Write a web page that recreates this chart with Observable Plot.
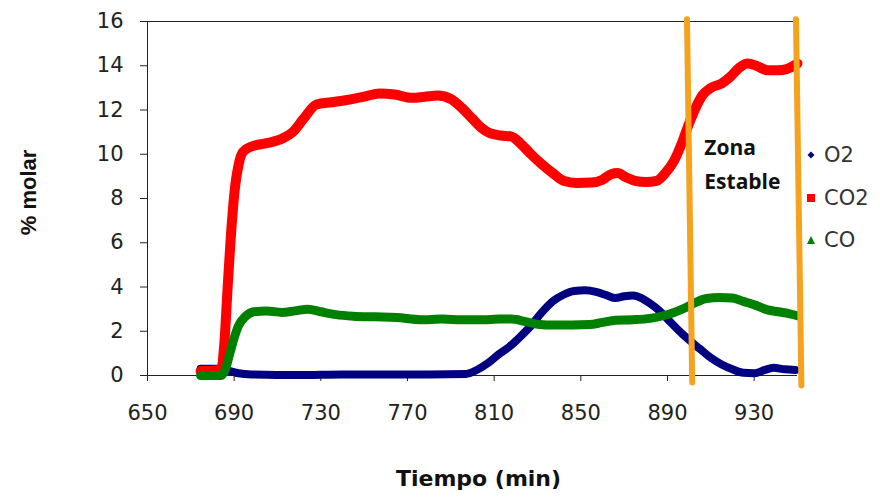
<!DOCTYPE html>
<html><head><meta charset="utf-8">
<script src="https://cdn.jsdelivr.net/npm/d3@7"></script>
<script src="https://cdn.jsdelivr.net/npm/@observablehq/plot@0.6"></script>
<style>
body{margin:0;background:#fff;}
#wrap{position:relative;width:880px;height:497px;overflow:hidden;}
.leg{position:absolute;left:805px;height:24px;line-height:24px;font-family:"DejaVu Sans";font-size:21px;color:#333;white-space:nowrap;}
.leg svg{position:absolute;left:0;top:6px;}
.leg span{position:absolute;left:19px;top:0;}
</style></head><body><div id="wrap"></div>
<script>
// ---- data ----
const xTicks = [650, 690, 730, 770, 810, 850, 890, 930];
const yTicks = [0, 2, 4, 6, 8, 10, 12, 14, 16];

const o2Time = [674.5,684,688,692,698,720,740,760,780,797,802,807,812,817,822,827,832,837,842,847,852,857,862,866,870,874,878,882,886,890,895,900,905,910,915,920,925,930,935,939,944,949];
const o2Val  = [0.3,0.3,0.2,0.1,0.05,0.02,0.05,0.05,0.05,0.07,0.25,0.55,0.95,1.3,1.75,2.25,2.85,3.35,3.65,3.82,3.85,3.78,3.62,3.5,3.58,3.62,3.5,3.25,2.95,2.55,2.05,1.6,1.2,0.8,0.5,0.28,0.12,0.1,0.25,0.35,0.28,0.25];

const co2Time = [674.5,684,685.5,687,689,690.5,692,694,698,705,712,717,722,728,735,742,750,757,764,772,778,784,790,795,800,804,808,813,818,822,827,832,837,842,848,855,860,864,867,871,875,880,885,889,893,897,900,903,906,910,915,919,923,927,931,936,941,945,950];
const co2Val  = [0.2,0.25,1.5,4.0,7.0,8.6,9.5,10.1,10.35,10.5,10.7,11.0,11.6,12.25,12.35,12.45,12.6,12.75,12.7,12.55,12.6,12.65,12.5,12.1,11.6,11.2,10.95,10.85,10.8,10.5,10.0,9.55,9.15,8.8,8.7,8.72,8.85,9.1,9.15,8.95,8.8,8.75,8.8,9.15,9.7,10.6,11.4,12.1,12.65,13.0,13.2,13.5,13.9,14.1,14.0,13.8,13.8,13.85,14.1];

const coTime = [674.5,684,686,688,690,692,695,699,705,712,718,724,730,737,745,755,765,776,786,795,805,812,818,824,830,838,846,854,860,866,874,882,888,893,898,903,908,914,920,925,930,935,941,946,950];
const coVal  = [0.0,0.0,0.3,1.0,1.7,2.25,2.65,2.88,2.92,2.85,2.92,3.0,2.88,2.75,2.68,2.65,2.62,2.52,2.55,2.52,2.52,2.55,2.55,2.45,2.32,2.28,2.28,2.3,2.4,2.5,2.52,2.58,2.7,2.85,3.05,3.3,3.48,3.52,3.5,3.35,3.2,3.0,2.88,2.8,2.7];

const seriesNames  = ["O2", "CO2", "CO"];
const seriesColors = ["#000080", "#ff0000", "#008000"];

// "Zona Estable" boundary lines (hand-drawn orange bars)
const zoneLeftX  = [899, 901.4];
const zoneLeftY  = [16.1, -0.32];
const zoneRightX = [949.3, 951.8];
const zoneRightY = [16.1, -0.45];
const zoneLabel  = ["Zona", "Estable"];
const zoneLabelX = [907, 907];
const zoneLabelY = [10.26, 8.74];

// ---- build ----
const toRows = (ts, vs) => ts.map((t, i) => ({t, v: vs[i]}));
const o2 = toRows(o2Time, o2Val);
const co2 = toRows(co2Time, co2Val);
const co = toRows(coTime, coVal);
const zoneL = toRows(zoneLeftX, zoneLeftY);
const zoneR = toRows(zoneRightX, zoneRightY);
const zoneText = zoneLabel.map((s, i) => ({s, t: zoneLabelX[i], v: zoneLabelY[i]}));

const orange = "#f5a31f";

const chart = Plot.plot({
  width: 880, height: 497,
  marginLeft: 147, marginRight: 83, marginTop: 21, marginBottom: 122,
  x: {domain: [650, 950]},
  y: {domain: [0, 16]},
  style: {fontFamily: "DejaVu Sans", fontSize: "21px", color: "#222", background: "white", overflow: "visible"},
  marks: [
    Plot.axisX({ticks: xTicks, tickSize: 6, tickPadding: 24, label: null, tickFormat: d => String(d)}),
    Plot.axisY({ticks: yTicks, tickSize: 7, tickPadding: 17, label: null, tickFormat: d => String(d)}),
    Plot.ruleY([16], {stroke: "#222", strokeWidth: 1}),
    Plot.ruleX([650], {stroke: "#222", strokeWidth: 1}),
    Plot.ruleY([0], {stroke: "#222", strokeWidth: 1}),
    Plot.line(o2, {x: "t", y: "v", stroke: seriesColors[0], strokeWidth: 8, curve: "monotone-x"}),
    Plot.line(co2, {x: "t", y: "v", stroke: seriesColors[1], strokeWidth: 10, curve: "monotone-x"}),
    Plot.line(co, {x: "t", y: "v", stroke: seriesColors[2], strokeWidth: 9, curve: "monotone-x"}),
    Plot.line(zoneL, {x: "t", y: "v", stroke: orange, strokeWidth: 6}),
    Plot.line(zoneR, {x: "t", y: "v", stroke: orange, strokeWidth: 6}),
    Plot.text(zoneText, {x: "t", y: "v", text: "s", textAnchor: "start", fontFamily: "Open Sans", fontWeight: "bold", fontSize: 21, fill: "#111"}),
    Plot.text(["% molar"], {text: d => d, frameAnchor: "left", textAnchor: "middle", lineAnchor: "middle", rotate: -90, dx: -119, dy: -6, fontFamily: "Liberation Sans", fontWeight: "bold", fontSize: 22, fill: "#111"}),
    Plot.text(["Tiempo (min)"], {text: d => d, frameAnchor: "bottom", textAnchor: "middle", lineAnchor: "middle", dx: 6, dy: 103, fontFamily: "DejaVu Sans", fontWeight: "bold", fontSize: 22, fill: "#111"})
  ]
});

const wrap = document.getElementById("wrap");
wrap.appendChild(chart);

// legend (right side)
const legTops = [155, 198, 240];
const symbols = [
  c => `<polygon points="6,2.5 9.5,6 6,9.5 2.5,6" fill="${c}"/>`,
  c => `<rect x="2" y="2" width="8" height="8" fill="${c}"/>`,
  c => `<polygon points="6,2 10,10 2,10" fill="${c}"/>`
];
seriesNames.forEach((name, i) => {
  const d = document.createElement("div");
  d.className = "leg";
  d.style.top = (legTops[i] - 12) + "px";
  d.innerHTML = `<svg width="12" height="12">${symbols[i](seriesColors[i])}</svg><span>${name}</span>`;
  wrap.appendChild(d);
});
</script>
</body></html>
